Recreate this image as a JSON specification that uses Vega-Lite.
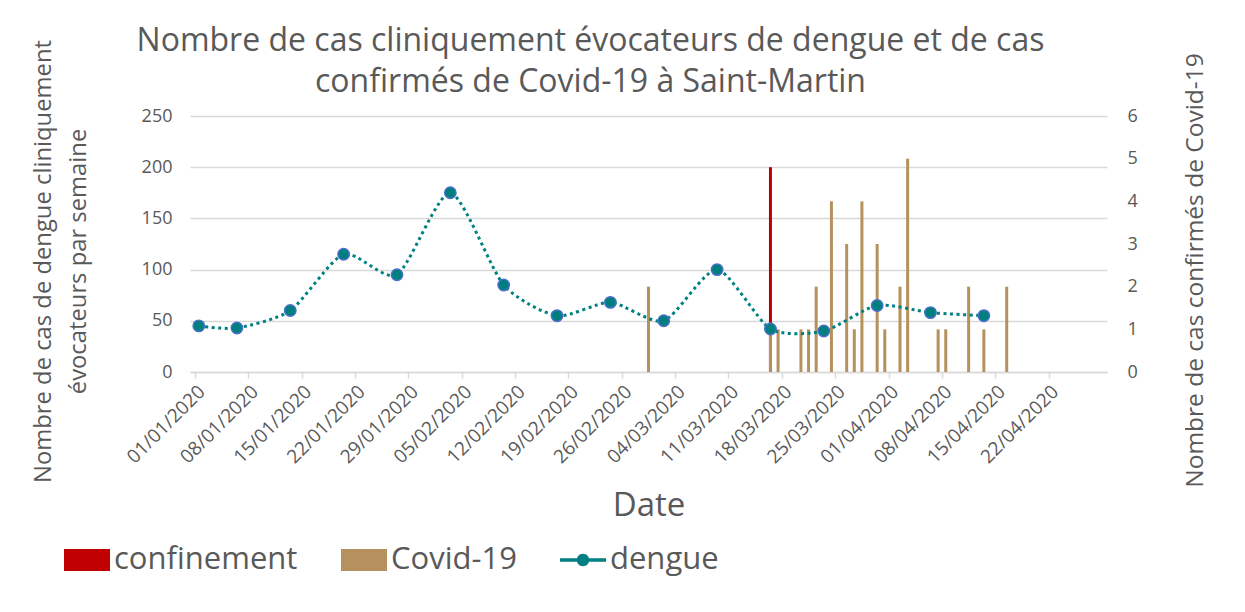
{
  "$schema": "https://vega.github.io/schema/vega-lite/v6.json",
  "width": 917,
  "height": 256,
  "autosize": "none",
  "padding": {"left": 190, "top": 116, "right": 138, "bottom": 240},
  "background": "white",
  "config": {
    "font": "Open Sans",
    "view": {"stroke": null},
    "axis": {"labelColor": "#595959", "titleColor": "#595959", "titleFontWeight": "normal", "labelFont": "Open Sans", "titleFont": "Open Sans"}
  },
  "title": {
    "text": ["Nombre de cas cliniquement évocateurs de dengue et de cas", "confirmés de Covid-19 à Saint-Martin"],
    "fontSize": 32,
    "fontWeight": "normal",
    "color": "#595959",
    "anchor": "middle",
    "dx": -58,
    "lineHeight": 41,
    "offset": -60
  },
  "layer": [
    {
      "data": {"values": [{"date": "16/03/2020", "cas": 200}], "format": {"parse": {"date": "date:'%d/%m/%Y'"}}},
      "mark": {"type": "bar", "size": 3},
      "encoding": {
        "x": {
          "field": "date", "type": "temporal",
          "scale": {"domain": [{"year": 2019, "month": 12, "date": 31, "hours": 12}, {"year": 2020, "month": 4, "date": 28, "hours": 12}]},
          "axis": {
            "values": [
              {"year": 2020, "month": 1, "date": 1}, {"year": 2020, "month": 1, "date": 8}, {"year": 2020, "month": 1, "date": 15},
              {"year": 2020, "month": 1, "date": 22}, {"year": 2020, "month": 1, "date": 29}, {"year": 2020, "month": 2, "date": 5},
              {"year": 2020, "month": 2, "date": 12}, {"year": 2020, "month": 2, "date": 19}, {"year": 2020, "month": 2, "date": 26},
              {"year": 2020, "month": 3, "date": 4}, {"year": 2020, "month": 3, "date": 11}, {"year": 2020, "month": 3, "date": 18},
              {"year": 2020, "month": 3, "date": 25}, {"year": 2020, "month": 4, "date": 1}, {"year": 2020, "month": 4, "date": 8},
              {"year": 2020, "month": 4, "date": 15}, {"year": 2020, "month": 4, "date": 22}
            ],
            "format": "%d/%m/%Y",
            "labelAngle": -45,
            "labelFontSize": 19,
            "labelPadding": 4,
            "tickOffset": -3.85,
            "grid": false,
            "domainColor": "#D9D9D9",
            "domainWidth": 1.5,
            "tickColor": "#D9D9D9",
            "tickWidth": 1.5,
            "tickSize": 6,
            "title": "Date",
            "titleFontSize": 33,
            "titleBaseline": "middle",
            "titleY": 133,
            "labelOverlap": false
          }
        },
        "y": {
          "field": "cas", "type": "quantitative",
          "scale": {"domain": [0, 250]},
          "axis": {
            "orient": "left",
            "values": [0, 50, 100, 150, 200, 250],
            "labelFontSize": 18,
            "labelPadding": 18,
            "ticks": false,
            "domain": false,
            "grid": true,
            "gridColor": "#D9D9D9",
            "gridWidth": 1.5,
            "title": ["Nombre de cas de dengue cliniquement", "évocateurs par semaine"],
            "titleFontSize": 23.8,
            "titleAngle": -90,
            "titleAlign": "center",
            "titleBaseline": "top",
            "titleLineHeight": 35,
            "titleX": -159,
            "titleY": 145
          }
        },
        "color": {
          "datum": "confinement",
          "scale": {"domain": ["confinement", "Covid-19", "dengue"], "range": ["#C00000", "#B5915D", "#008080"]},
          "legend": {
            "orient": "none",
            "legendX": -126,
            "legendY": 421,
            "direction": "horizontal",
            "title": null,
            "labelFontSize": 31,
            "labelColor": "#595959",
            "labelFont": "Open Sans",
            "labelOffset": 4,
            "symbolSize": 2116,
            "columnPadding": 43,
            "labelLimit": 400,
            "encode": {
              "symbols": {
                "update": {
                  "shape": {"signal": "datum.value === 'dengue' ? 'M-1,-0.08H1V0.08H-1Z M0.27,0A0.27,0.27 0 1,1 -0.27,0A0.27,0.27 0 1,1 0.27,0Z' : 'M-1,-0.48H1V0.48H-1Z'"},
                  "fill": {"scale": "color", "field": "value"},
                  "stroke": {"value": "transparent"},
                  "strokeWidth": {"value": 0},
                  "opacity": {"value": 1}
                }
              }
            }
          }
        }
      }
    },
    {
      "data": {
        "values": [
          {"date": "29/02/2020", "cas": 2},
          {"date": "16/03/2020", "cas": 1},
          {"date": "17/03/2020", "cas": 1},
          {"date": "20/03/2020", "cas": 1},
          {"date": "21/03/2020", "cas": 1},
          {"date": "22/03/2020", "cas": 2},
          {"date": "24/03/2020", "cas": 4},
          {"date": "26/03/2020", "cas": 3},
          {"date": "27/03/2020", "cas": 1},
          {"date": "28/03/2020", "cas": 4},
          {"date": "30/03/2020", "cas": 3},
          {"date": "31/03/2020", "cas": 1},
          {"date": "02/04/2020", "cas": 2},
          {"date": "03/04/2020", "cas": 5},
          {"date": "07/04/2020", "cas": 1},
          {"date": "08/04/2020", "cas": 1},
          {"date": "11/04/2020", "cas": 2},
          {"date": "13/04/2020", "cas": 1},
          {"date": "16/04/2020", "cas": 2}
        ],
        "format": {"parse": {"date": "date:'%d/%m/%Y'"}}
      },
      "mark": {"type": "bar", "size": 3},
      "encoding": {
        "x": {"field": "date", "type": "temporal"},
        "y": {
          "field": "cas", "type": "quantitative",
          "scale": {"domain": [0, 6]},
          "axis": {
            "orient": "right",
            "values": [0, 1, 2, 3, 4, 5, 6],
            "labelFontSize": 18,
            "labelPadding": 20,
            "ticks": false,
            "domain": false,
            "grid": false,
            "title": "Nombre de cas confirmés de Covid-19",
            "titleFontSize": 24.5,
            "titleAngle": -90,
            "titleAlign": "center",
            "titleBaseline": "middle",
            "titleX": 88,
            "titleY": 154
          }
        },
        "color": {"datum": "Covid-19"}
      }
    },
    {
      "data": {
        "values": [
          {"date": "01/01/2020", "cas": 45},
          {"date": "06/01/2020", "cas": 43},
          {"date": "13/01/2020", "cas": 60},
          {"date": "20/01/2020", "cas": 115},
          {"date": "27/01/2020", "cas": 95},
          {"date": "03/02/2020", "cas": 175},
          {"date": "10/02/2020", "cas": 85},
          {"date": "17/02/2020", "cas": 55},
          {"date": "24/02/2020", "cas": 68},
          {"date": "02/03/2020", "cas": 50},
          {"date": "09/03/2020", "cas": 100},
          {"date": "16/03/2020", "cas": 42},
          {"date": "23/03/2020", "cas": 40},
          {"date": "30/03/2020", "cas": 65},
          {"date": "06/04/2020", "cas": 58},
          {"date": "13/04/2020", "cas": 55}
        ],
        "format": {"parse": {"date": "date:'%d/%m/%Y'"}}
      },
      "layer": [
        {
          "mark": {"type": "line", "interpolate": "cardinal", "tension": 0.3, "strokeWidth": 3, "strokeDash": [3, 3.5]},
          "encoding": {
            "x": {"field": "date", "type": "temporal"},
            "y": {"field": "cas", "type": "quantitative", "scale": {"domain": [0, 250]}, "axis": null},
            "color": {"datum": "dengue"}
          }
        },
        {
          "mark": {"type": "point", "shape": "circle", "filled": true, "size": 130, "fill": "#007F7F", "stroke": "#4A6FCB", "strokeWidth": 1.5, "opacity": 1},
          "encoding": {
            "x": {"field": "date", "type": "temporal"},
            "y": {"field": "cas", "type": "quantitative", "scale": {"domain": [0, 250]}, "axis": null}
          }
        }
      ]
    }
  ],
  "resolve": {"scale": {"y": "independent"}}
}
